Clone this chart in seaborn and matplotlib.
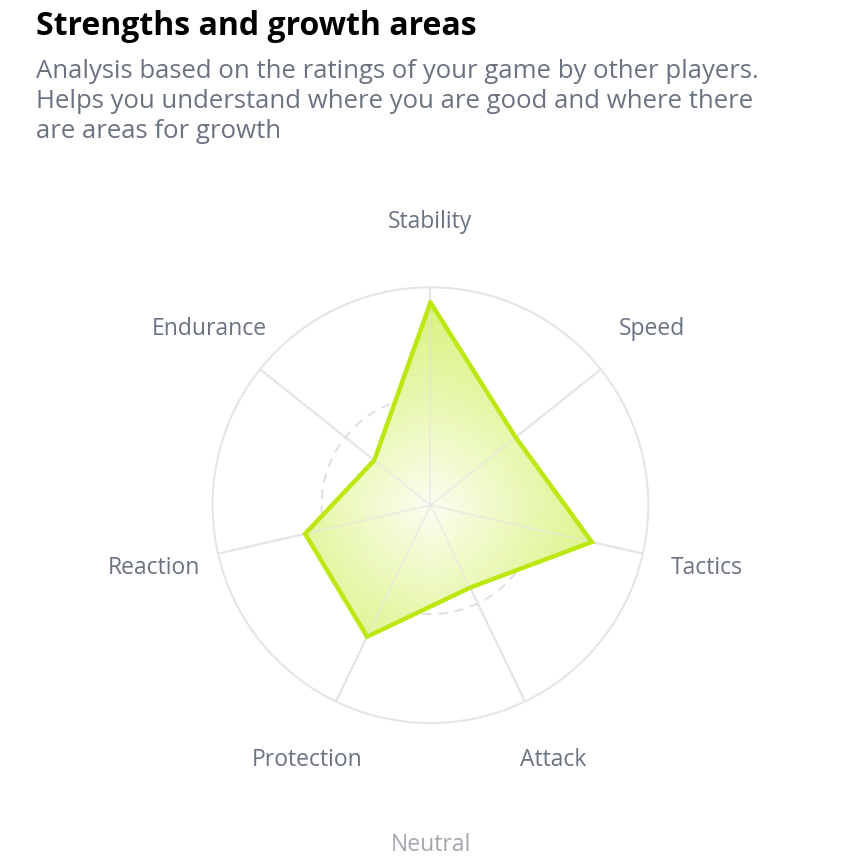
import numpy as np
import seaborn as sns
import matplotlib.pyplot as plt
from matplotlib.colors import LinearSegmentedColormap
from matplotlib.patches import Polygon

categories = ["Stability", "Speed", "Tactics", "Attack", "Protection", "Reaction", "Endurance"]
values = [0.93, 0.50, 0.76, 0.42, 0.67, 0.59, 0.33]

sns.set_style("white")
plt.rcParams['font.family'] = ['Open Sans', 'DejaVu Sans']

fig = plt.figure(figsize=(8.6, 8.68), dpi=100)
fig.text(0.042, 0.988, "Strengths and growth areas", fontsize=23, fontweight="bold",
         color="black", va="top")
fig.text(0.042, 0.932, "Analysis based on the ratings of your game by other players.\n"
         "Helps you understand where you are good and where there\nare areas for growth",
         fontsize=18.5, color="#6b7280", va="top", linespacing=1.25)

ax = fig.add_axes([0.247, 0.167, 0.507, 0.502], projection="polar")
ax.set_theta_offset(np.pi / 2)
ax.set_theta_direction(-1)
ax.set_ylim(0, 1)
ax.grid(False)
ax.set_xticks([])
ax.set_yticks([])
ax.spines["polar"].set_color("#e5e5e5")
ax.spines["polar"].set_linewidth(1.5)

n = len(categories)
angles = np.arange(n) * 2 * np.pi / n

# spokes and the half-way dashed ring
for a in angles:
    ax.plot([a, a], [0, 1], color="#e5e5e5", lw=1.5, zorder=1)
ring = np.linspace(0, 2 * np.pi, 300)
ax.plot(ring, np.full_like(ring, 0.5), color="#dcdcdc", lw=1.3, ls=(0, (5, 4)), zorder=1)

# radial gradient fill clipped to the data polygon
cmap = LinearSegmentedColormap.from_list("lime", ["#fbfdf0", "#e6f7a8", "#d2f06a"])
tt, rr = np.meshgrid(np.linspace(0, 2 * np.pi, 200), np.linspace(0, 1, 100))
mesh = ax.pcolormesh(tt, rr, rr, cmap=cmap, shading="auto", zorder=2, alpha=0.9)
theta_c = np.append(angles, angles[0])
vals_c = np.append(values, values[0])
poly = Polygon(np.column_stack([theta_c, vals_c]), closed=True, transform=ax.transData,
               facecolor="none", edgecolor="none")
ax.add_patch(poly)
mesh.set_clip_path(poly)
for a in angles:
    ax.plot([a, a], [0, 1], color="#e5e5e5", lw=1.2, alpha=0.6, zorder=3)
ax.plot(theta_c, vals_c, color="#bce812", lw=3.2, zorder=4, solid_joinstyle="miter")

for a, lab in zip(angles, categories):
    ax.text(a, 1.3, lab, ha="center", va="center", fontsize=16.5, color="#6b7280",
            clip_on=False)

fig.text(0.501, 0.027, "Neutral", ha="center", va="center", fontsize=16.5, color="#a3a7ae")

fig.savefig("out.png", dpi=100)
